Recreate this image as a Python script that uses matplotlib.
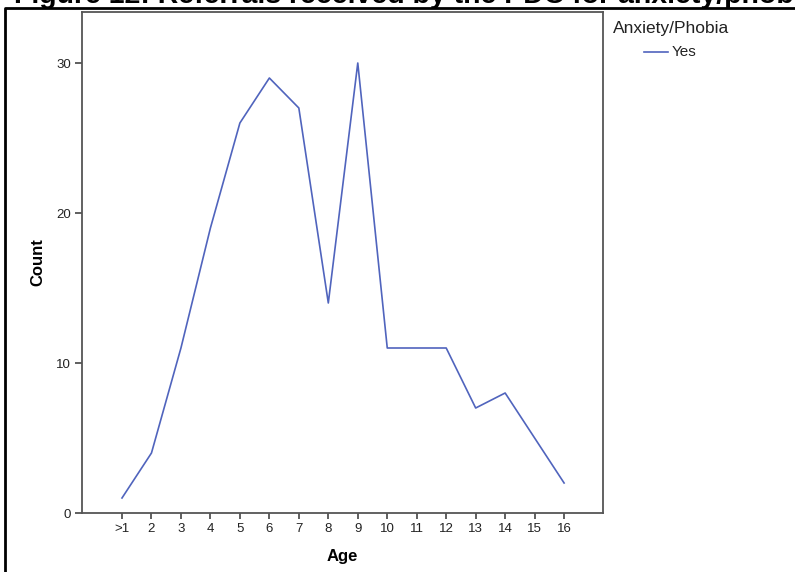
import matplotlib.pyplot as plt
from matplotlib.lines import Line2D

plt.rcParams['font.family'] = ['Liberation Sans', 'DejaVu Sans']

# Data
age_labels = ['>1', '2', '3', '4', '5', '6', '7', '8', '9', '10', '11', '12', '13', '14', '15', '16']
counts = [1, 4, 11, 19, 26, 29, 27, 14, 30, 11, 11, 11, 7, 8, 5, 2]
series_name = 'Yes'
legend_title = 'Anxiety/Phobia'

W, H = 795, 572
fig = plt.figure(figsize=(W / 100, H / 100), dpi=100)

# title, clipped by the top edge as in the source page
fig.text(14 / W, 1 - 3 / H, 'Figure 12: Referrals received by the PDC for anxiety/phobia',
         fontsize=20.5, fontweight='bold', va='baseline', ha='left')

# page border (left + top)
fig.add_artist(Line2D([5 / W, 5 / W, 1.0], [0.0, 1 - 8 / H, 1 - 8 / H],
                      transform=fig.transFigure, color='black', lw=2))

ax = fig.add_axes([82 / W, (H - 513) / H, 521 / W, 501 / H])
x = list(range(1, len(counts) + 1))
line, = ax.plot(x, counts, color='#5064bd', lw=1.2)

ax.set_xlim(1 - 1.357, 17.32)
ax.set_ylim(0, 33.4)
ax.set_xticks(x)
ax.set_xticklabels(age_labels)
ax.set_yticks([0, 10, 20, 30])

for s in ax.spines.values():
    s.set_color('#555555')
    s.set_linewidth(1.3)
ax.tick_params(direction='out', length=5, width=1.2, color='#444444',
               labelsize=9.5, labelcolor='#222222', pad=3)
ax.tick_params(axis='x', length=4)

ax.set_xlabel('Age', fontsize=12, fontweight='bold', labelpad=10)
ax.set_ylabel('Count', fontsize=12, fontweight='bold', labelpad=8)

# legend outside on the right
fig.text(613 / W, 1 - 28 / H, legend_title, fontsize=12.5, va='center', ha='left', color='#222222')
fig.add_artist(Line2D([644 / W, 668 / W], [1 - 52 / H, 1 - 52 / H],
                      transform=fig.transFigure, color=line.get_color(), lw=1.2))
fig.text(672 / W, 1 - 52 / H, series_name, fontsize=11, va='center', ha='left', color='#222222')

fig.savefig('out.png', dpi=100)
